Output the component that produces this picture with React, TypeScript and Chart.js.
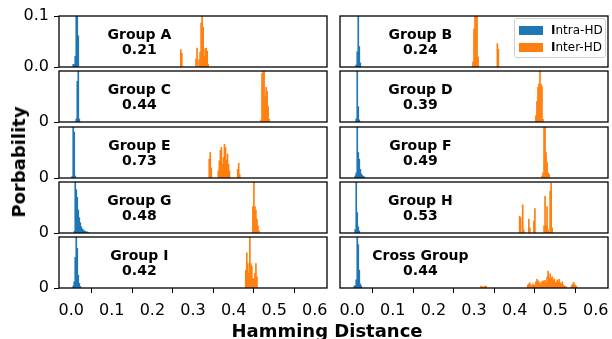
import React, { useEffect, useRef } from "react";
import { Chart, registerables } from "chart.js";

Chart.register(...registerables);
Chart.defaults.font.family = "'DejaVu Sans'";
Chart.defaults.color = "#000";

type Bin = [number, number]; // [hamming distance, probability]

const INTRA_A: Bin[] = [[0.005, 0.005], [0.0075, 0.005], [0.01, 0.021], [0.0125, 0.15], [0.015, 0.15], [0.0175, 0.061]];
const INTER_A: Bin[] = [[0.27, 0.034], [0.2725, 0.027], [0.3075, 0.016], [0.31, 0.037], [0.315, 0.014], [0.3175, 0.029], [0.32, 0.086], [0.3225, 0.15], [0.325, 0.078], [0.3275, 0.02], [0.33, 0.036], [0.3325, 0.037], [0.335, 0.031], [0.3375, 0.005]];

const INTRA_B: Bin[] = [[0.01, 0.004], [0.0125, 0.03], [0.015, 0.15], [0.0175, 0.04], [0.02, 0.008]];
const INTER_B: Bin[] = [[0.2975, 0.01], [0.3, 0.075], [0.3025, 0.15], [0.305, 0.15], [0.3075, 0.105], [0.31, 0.02], [0.3575, 0.046], [0.36, 0.035]];

const INTRA_C: Bin[] = [[0.0125, 0.006], [0.015, 0.08], [0.0175, 0.15], [0.02, 0.006]];
const INTER_C: Bin[] = [[0.4675, 0.004], [0.47, 0.095], [0.4725, 0.15], [0.475, 0.1], [0.4775, 0.05], [0.48, 0.068], [0.4825, 0.06], [0.485, 0.03], [0.4875, 0.005]];

const INTRA_D: Bin[] = [[0.01, 0.006], [0.0125, 0.15], [0.015, 0.03], [0.0175, 0.004]];
const INTER_D: Bin[] = [[0.4525, 0.012], [0.455, 0.04], [0.4575, 0.068], [0.46, 0.075], [0.4625, 0.15], [0.465, 0.074], [0.4675, 0.07], [0.47, 0.005]];

const INTRA_E: Bin[] = [[0.0025, 0.003], [0.005, 0.15], [0.0075, 0.09], [0.01, 0.004]];
const INTER_E: Bin[] = [[0.34, 0.037], [0.3425, 0.05], [0.345, 0.02], [0.3625, 0.014], [0.365, 0.034], [0.3675, 0.054], [0.37, 0.06], [0.3725, 0.027], [0.375, 0.04], [0.3775, 0.066], [0.38, 0.06], [0.3825, 0.035], [0.385, 0.047], [0.3875, 0.027], [0.39, 0.014], [0.41, 0.017], [0.4125, 0.029], [0.415, 0.007]];

const INTRA_F: Bin[] = [[0.0075, 0.004], [0.01, 0.01], [0.0125, 0.15], [0.015, 0.05], [0.0175, 0.037], [0.02, 0.017], [0.0225, 0.008], [0.025, 0.005], [0.0275, 0.003], [0.03, 0.002]];
const INTER_F: Bin[] = [[0.4675, 0.004], [0.47, 0.01], [0.4725, 0.15], [0.475, 0.15], [0.4775, 0.05], [0.48, 0.03], [0.4825, 0.01], [0.485, 0.007]];

const INTRA_G: Bin[] = [[0.0075, 0.003], [0.01, 0.15], [0.0125, 0.085], [0.015, 0.07], [0.0175, 0.045], [0.02, 0.03], [0.0225, 0.02], [0.025, 0.012], [0.0275, 0.008], [0.03, 0.006], [0.0325, 0.004], [0.035, 0.003], [0.0375, 0.002], [0.04, 0.002], [0.0425, 0.001]];
const INTER_G: Bin[] = [[0.4475, 0.052], [0.45, 0.15], [0.4525, 0.052], [0.455, 0.045], [0.4575, 0.027], [0.46, 0.014], [0.4625, 0.004]];

const INTRA_H: Bin[] = [[0.0075, 0.007], [0.01, 0.15], [0.0125, 0.04], [0.015, 0.012], [0.0175, 0.004]];
const INTER_H: Bin[] = [[0.4125, 0.033], [0.415, 0.03], [0.42, 0.055], [0.4225, 0.006], [0.435, 0.027], [0.4375, 0.01], [0.4475, 0.024], [0.45, 0.048], [0.4725, 0.014], [0.475, 0.072], [0.4775, 0.014], [0.48, 0.052], [0.4825, 0.006], [0.4875, 0.082], [0.49, 0.098], [0.4925, 0.01]];

const INTRA_I: Bin[] = [[0.005, 0.004], [0.0075, 0.012], [0.01, 0.06], [0.0125, 0.15], [0.015, 0.078], [0.0175, 0.025], [0.02, 0.009], [0.0225, 0.003]];
const INTER_I: Bin[] = [[0.43, 0.035], [0.4325, 0.069], [0.435, 0.048], [0.4375, 0.029], [0.44, 0.15], [0.4425, 0.048], [0.445, 0.043], [0.4475, 0.019], [0.45, 0.017], [0.4525, 0.029], [0.455, 0.048], [0.4575, 0.022]];

const INTRA_CROSS: Bin[] = [[0.005, 0.003], [0.0075, 0.005], [0.01, 0.016], [0.0125, 0.15], [0.015, 0.085], [0.0175, 0.035], [0.02, 0.008], [0.0225, 0.004]];
const INTER_CROSS: Bin[] = [
  [0.3175, 0.004], [0.32, 0.003], [0.325, 0.003], [0.3275, 0.004], [0.33, 0.003],
  [0.4325, 0.006], [0.435, 0.008], [0.4375, 0.01], [0.44, 0.006], [0.4425, 0.004], [0.445, 0.008],
  [0.4475, 0.005], [0.45, 0.006], [0.4525, 0.012], [0.455, 0.017], [0.4575, 0.014], [0.46, 0.012],
  [0.4625, 0.008], [0.465, 0.01], [0.4675, 0.012], [0.47, 0.014], [0.4725, 0.012], [0.475, 0.015],
  [0.4775, 0.01], [0.48, 0.022], [0.4825, 0.033], [0.485, 0.018], [0.4875, 0.028], [0.49, 0.02],
  [0.4925, 0.022], [0.495, 0.015], [0.4975, 0.018], [0.5, 0.01], [0.5025, 0.012], [0.505, 0.016],
  [0.5075, 0.012], [0.51, 0.017], [0.5125, 0.01], [0.515, 0.008], [0.5175, 0.012], [0.52, 0.006],
  [0.5225, 0.004], [0.525, 0.003], [0.5275, 0.002],
  [0.54, 0.004], [0.5425, 0.007], [0.545, 0.011], [0.5475, 0.008], [0.55, 0.005], [0.5525, 0.003],
];

const GROUP_NAMES = ["Group A", "Group B", "Group C", "Group D", "Group E", "Group F", "Group G", "Group H", "Group I", "Cross Group"];
const GROUP_SCORES = ["0.21", "0.24", "0.44", "0.39", "0.73", "0.49", "0.48", "0.53", "0.42", "0.44"];
const INTRA_SERIES = [INTRA_A, INTRA_B, INTRA_C, INTRA_D, INTRA_E, INTRA_F, INTRA_G, INTRA_H, INTRA_I, INTRA_CROSS];
const INTER_SERIES = [INTER_A, INTER_B, INTER_C, INTER_D, INTER_E, INTER_F, INTER_G, INTER_H, INTER_I, INTER_CROSS];

const SERIES_NAMES = ["Intra-HD", "Inter-HD"];
const SERIES_COLORS = ["#1f77b4", "#ff7f0e"];
const X_TICKS = [0, 0.1, 0.2, 0.3, 0.4, 0.5, 0.6];
const Y_TICKS_FIRST = [0, 0.1];
const Y_TICKS_OTHER = [0];
const X_MIN = -0.03;
const X_MAX = 0.63;
const Y_MAX = 0.1;

const PLOT_W = 268;
const PLOT_H = 51;
const COL_LEFT = [59, 340];
const ROW_TOP = [16, 71, 127, 182, 237];
const FONT = "'DejaVu Sans', sans-serif";

const framePlugin = {
  id: "frame",
  afterDatasetsDraw(chart: any) {
    const { ctx, chartArea } = chart;
    ctx.save();
    ctx.strokeStyle = "#000";
    ctx.lineWidth = 1.3;
    ctx.strokeRect(chartArea.left, chartArea.top, chartArea.right - chartArea.left, chartArea.bottom - chartArea.top);
    ctx.restore();
  },
};

function Panel({ idx }: { idx: number }) {
  const ref = useRef<HTMLCanvasElement>(null);
  const row = Math.floor(idx / 2);
  const col = idx % 2;
  const isBottom = row === 4;
  const yAxisW = col === 0 ? 59 : 0;
  const padL = col === 0 ? 0 : 20;
  const padT = 18;
  const padB = isBottom ? 0 : 18;
  const padR = 22;
  const xAxisH = isBottom ? 34 : 0;
  const left = COL_LEFT[col] - yAxisW - padL;
  const top = ROW_TOP[row] - padT;
  const width = yAxisW + padL + PLOT_W + padR;
  const height = padT + PLOT_H + xAxisH + padB;

  useEffect(() => {
    if (!ref.current) return;
    const yTicks = idx === 0 ? Y_TICKS_FIRST : Y_TICKS_OTHER;
    const mk = (bins: Bin[], s: number) => ({
      label: SERIES_NAMES[s],
      data: bins.map(([x, y]) => ({ x, y })),
      backgroundColor: SERIES_COLORS[s],
      borderWidth: 0,
      barPercentage: 1,
      categoryPercentage: 1,
      grouped: false,
      clip: 0,
    });
    const chart = new Chart(ref.current, {
      type: "bar",
      data: { datasets: [mk(INTRA_SERIES[idx], 0), mk(INTER_SERIES[idx], 1)] as any },
      options: {
        responsive: false,
        animation: false,
        devicePixelRatio: 1,
        layout: { padding: { left: padL, right: padR, top: padT, bottom: padB } },
        plugins: { legend: { display: false }, tooltip: { enabled: false } },
        scales: {
          x: {
            type: "linear",
            min: X_MIN,
            max: X_MAX,
            offset: false,
            display: isBottom,
            border: { display: false },
            grid: { display: true, drawOnChartArea: false, drawTicks: true, tickLength: 5, color: "#000", lineWidth: 1 },
            ticks: {
              autoSkip: false,
              maxRotation: 0,
              padding: 8,
              font: { size: 16 },
              color: "#000",
              callback: (v: any) => Number(v).toFixed(1),
            },
            afterBuildTicks: (s: any) => {
              s.ticks = X_TICKS.map((v) => ({ value: v }));
            },
            afterFit: (s: any) => {
              s.height = xAxisH;
            },
          },
          y: {
            type: "linear",
            min: 0,
            max: Y_MAX,
            display: col === 0,
            border: { display: false },
            grid: { display: true, drawOnChartArea: false, drawTicks: true, tickLength: 5, color: "#000", lineWidth: 1 },
            ticks: {
              padding: 5,
              font: { size: 16 },
              color: "#000",
              callback: (v: any) => (idx === 0 ? Number(v).toFixed(1) : String(Number(v))),
            },
            afterBuildTicks: (s: any) => {
              s.ticks = yTicks.map((v) => ({ value: v }));
            },
            afterFit: (s: any) => {
              s.width = yAxisW;
            },
          },
        },
      } as any,
      plugins: [framePlugin],
    });
    return () => chart.destroy();
  }, []);

  return (
    <canvas
      ref={ref}
      width={width}
      height={height}
      style={{ position: "absolute", left, top, width, height }}
    />
  );
}

export default function App() {
  const labels = GROUP_NAMES.map((name, i) => {
    const row = Math.floor(i / 2);
    const col = i % 2;
    return (
      <div
        key={name}
        style={{
          position: "absolute",
          left: COL_LEFT[col] + 0.3 * PLOT_W,
          top: ROW_TOP[row] + PLOT_H / 2,
          transform: "translate(-50%, -50%)",
          font: `bold 14px ${FONT}`,
          lineHeight: "15px",
          textAlign: "center",
          whiteSpace: "nowrap",
          color: "#000",
        }}
      >
        <div>{name}</div>
        <div>{GROUP_SCORES[i]}</div>
      </div>
    );
  });

  return (
    <div style={{ position: "absolute", left: 0, top: 0, width: 612, height: 339, overflow: "hidden", background: "#fff" }}>
      {GROUP_NAMES.map((_, i) => (
        <Panel key={i} idx={i} />
      ))}
      {labels}
      <div
        style={{
          position: "absolute",
          left: 514,
          top: 18,
          width: 90,
          height: 38,
          border: "1px solid #d0d0d0",
          borderRadius: 3,
          background: "rgba(255,255,255,0.8)",
          font: `12px ${FONT}`,
          color: "#000",
        }}
      >
        {SERIES_NAMES.map((n, s) => (
          <div key={n} style={{ position: "absolute", left: 4, top: 5 + s * 17, height: 12, display: "flex", alignItems: "center" }}>
            <div style={{ width: 24, height: 9, background: SERIES_COLORS[s], marginRight: 8 }} />
            <span style={{ lineHeight: "12px", whiteSpace: "nowrap" }}>
              <b>{n[0]}</b>
              {n.slice(1)}
            </span>
          </div>
        ))}
      </div>
      <div
        style={{
          position: "absolute",
          left: 19,
          top: 162,
          transform: "translate(-50%, -50%) rotate(-90deg)",
          font: `bold 18px ${FONT}`,
          lineHeight: "18px",
          whiteSpace: "nowrap",
          color: "#000",
        }}
      >
        Porbability
      </div>
      <div
        style={{
          position: "absolute",
          left: 327,
          top: 322,
          transform: "translateX(-50%)",
          font: `bold 18px ${FONT}`,
          lineHeight: "18px",
          whiteSpace: "nowrap",
          color: "#000",
        }}
      >
        Hamming Distance
      </div>
    </div>
  );
}
